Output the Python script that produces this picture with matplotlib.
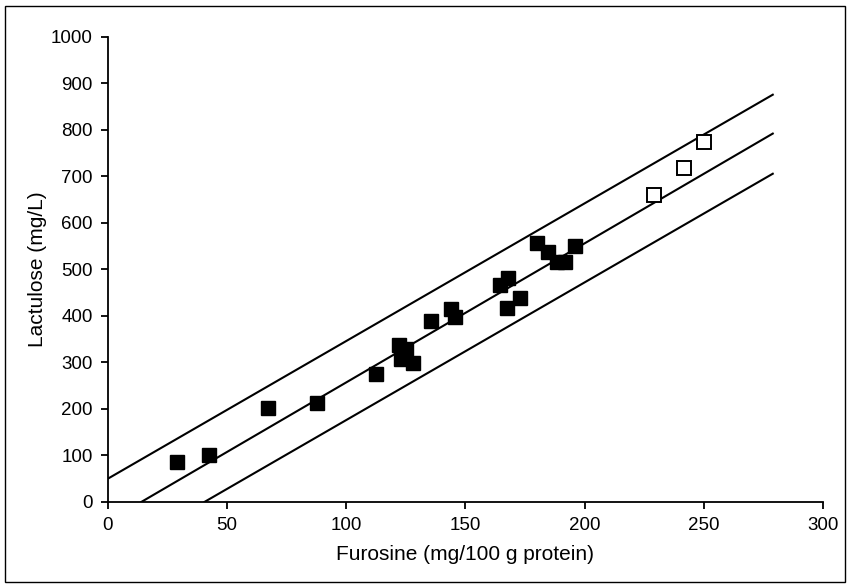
import matplotlib.pyplot as plt
from matplotlib.patches import Rectangle

plt.rcParams['font.family'] = ['Liberation Sans', 'DejaVu Sans']

# filled squares
furosine = [29, 42.5, 67.3, 87.6, 112.7, 122, 125, 123, 128, 135.5, 143.9, 145.6,
            164.5, 168, 173, 167.5, 179.9, 184.8, 188.3, 191.8, 196.1]
lactulose = [85, 100, 203, 213, 275, 337, 328, 307, 298, 389, 415, 398,
             466, 482, 438, 418, 557, 538, 515, 515, 551]

# open squares
furosine_open = [229.1, 241.8, 250.2]
lactulose_open = [660, 719, 775]

# regression line and limits: (slope, intercept)
line_params = [(2.96, 50), (2.99, -42), (2.96, -120)]
x_end = 279

# =========================================================
# PLOT
# =========================================================

fig = plt.figure(figsize=(8.5, 5.87), dpi=100)
ax = fig.add_axes([0.127, 0.145, 0.841, 0.792])

for slope, icpt in line_params:
    x_start = max(0, -icpt / slope)
    ax.plot([x_start, x_end], [icpt + slope * x_start, icpt + slope * x_end],
            color='black', lw=1.5, zorder=1)

ax.plot(furosine, lactulose, 's', color='black', ms=10.5, zorder=3)
ax.plot(furosine_open, lactulose_open, 's', mfc='white', mec='black',
        mew=1.4, ms=10, zorder=3)

ax.set_xlim(0, 300)
ax.set_ylim(0, 1000)
ax.set_xticks(range(0, 301, 50))
ax.set_yticks(range(0, 1001, 100))

for side in ['top', 'right']:
    ax.spines[side].set_visible(False)
for side in ['left', 'bottom']:
    ax.spines[side].set_linewidth(1.3)

ax.tick_params(direction='out', length=5, width=1.3, labelsize=13.5, pad=6)

ax.set_xlabel("Furosine (mg/100 g protein)", fontsize=15, labelpad=8)
ax.set_ylabel("Lactulose (mg/L)", fontsize=15, labelpad=3)

# outer frame
fig.patches.append(Rectangle((0.006, 0.008), 0.988, 0.982, transform=fig.transFigure,
                             fill=False, edgecolor='black', lw=1.0))

fig.savefig("out.png", dpi=100)
